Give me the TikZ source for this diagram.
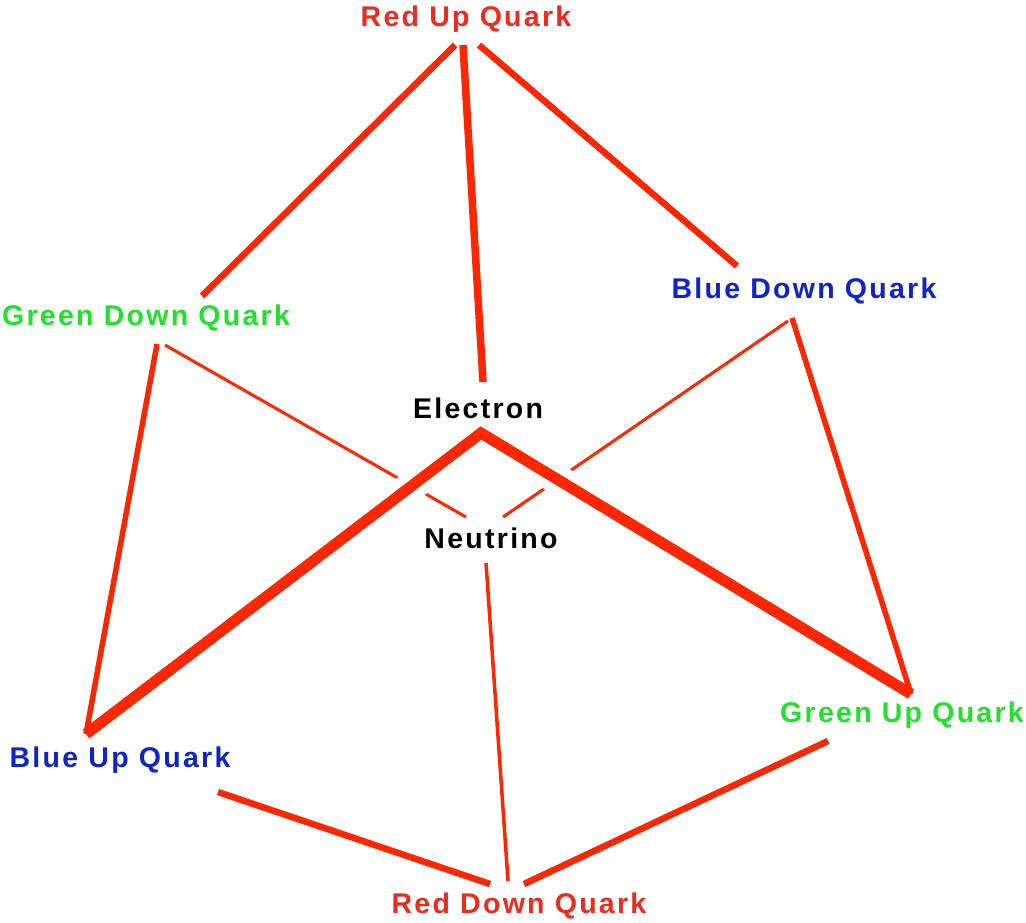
\documentclass[tikz,border=0pt]{standalone}
\usepackage{fontspec}
\newfontfamily\quarkfont{Liberation Sans}[LetterSpace=8]
\definecolor{BondRed}{RGB}{255,38,0}
\definecolor{QuarkRed}{RGB}{236,44,30}
\definecolor{QuarkGreen}{RGB}{34,224,44}
\definecolor{QuarkBlue}{RGB}{14,36,200}

\begin{document}
\begin{tikzpicture}[
        x=1pt, y=-1pt,
        particle/.style={
            inner sep=0pt,
            font=\quarkfont\bfseries\fontsize{28.5}{31}\selectfont
        },
        bond/.style={
            draw=BondRed,
            line width=#1
        },
        bond/.default=6.5pt,
        halo/.style={
            draw=white,
            line width=30pt
        }
    ]
        \useasboundingbox[fill=white] (0,0) rectangle (1026,923);

        % labels
        \node[particle, text=QuarkRed] (redup) at (466,19) {Red Up Quark};
        \node[particle, text=QuarkGreen] (greendown) at (146,318) {Green Down Quark};
        \node[particle, text=QuarkBlue] (bluedown) at (804,291) {Blue Down Quark};
        \node[particle] (electron) at (478,408) {Electron};
        \node[particle] (neutrino) at (491,538) {Neutrino};
        \node[particle, text=QuarkBlue] (blueup) at (120,760) {Blue Up Quark};
        \node[particle, text=QuarkGreen] (greenup) at (902,715) {Green Up Quark};
        \node[particle, text=QuarkRed] (reddown) at (519,906) {Red Down Quark};

        % line ends
        \coordinate (redup-l) at (455,45);
        \coordinate (redup-m) at (463,45);
        \coordinate (redup-r) at (479,45);
        \coordinate (greendown-t) at (202,296);
        \coordinate (greendown-b) at (157,344);
        \coordinate (greendown-n) at (165,345);
        \coordinate (bluedown-t) at (737,266);
        \coordinate (bluedown-b) at (792,318);
        \coordinate (bluedown-n) at (788,321);
        \coordinate (electron-t) at (483,382);
        \coordinate (electron-b) at (481,433);
        \coordinate (neutrino-l) at (466,517);
        \coordinate (neutrino-r) at (503,517);
        \coordinate (neutrino-b) at (486,563);
        \coordinate (blueup-t) at (86,734);
        \coordinate (blueup-r) at (218,792);
        \coordinate (greenup-t) at (911,694);
        \coordinate (greenup-l) at (828,741);
        \coordinate (reddown-l) at (490,884);
        \coordinate (reddown-m) at (508,881);
        \coordinate (reddown-r) at (524,884);

        % thin lines that pass under the electron lines
        \draw[bond=3pt] (greendown-n) -- (neutrino-l);
        \draw[bond=3pt] (bluedown-n) -- (neutrino-r);
        \draw[halo] (blueup-t) -- (electron-b) -- (greenup-t);

        \draw[bond] (redup-l) -- (greendown-t);
        \draw[bond=7.5pt] (redup-m) -- (electron-t);
        \draw[bond] (redup-r) -- (bluedown-t);
        \draw[bond=5.5pt] (greendown-b) -- (blueup-t);
        \draw[bond=5.5pt] (bluedown-b) -- (greenup-t);
        \draw[bond=11pt] (blueup-t) -- (electron-b) -- (greenup-t);
        \draw[bond=3.5pt] (neutrino-b) -- (reddown-m);
        \draw[bond] (blueup-r) -- (reddown-l);
        \draw[bond] (greenup-l) -- (reddown-r);
    \end{tikzpicture}
\end{document}
